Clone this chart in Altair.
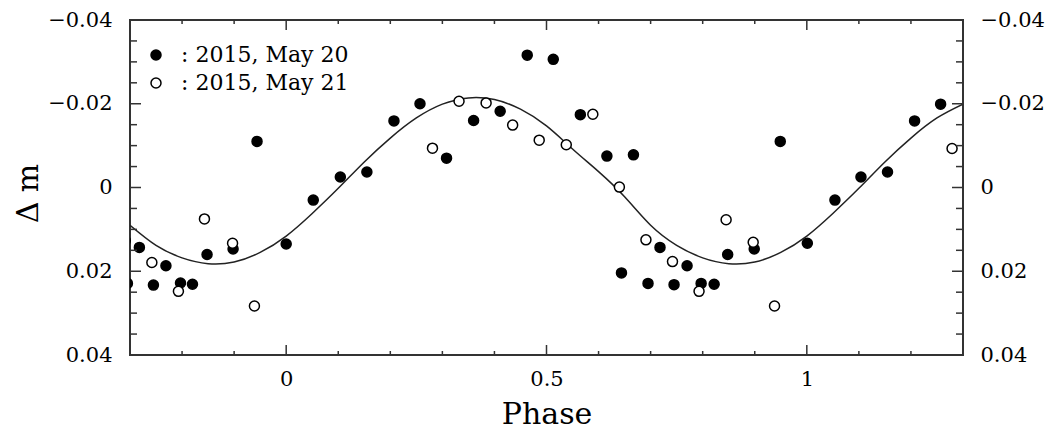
import altair as alt
import pandas as pd

# ---- data ----
may20_phase = [-0.305, -0.282, -0.255, -0.231, -0.203, -0.180, -0.152, -0.102, -0.056,
               0.000, 0.052, 0.104, 0.155, 0.207, 0.257, 0.308, 0.360, 0.411, 0.463,
               0.513, 0.565, 0.616, 0.644, 0.667, 0.695, 0.718, 0.745, 0.770, 0.797,
               0.822, 0.848, 0.899, 0.949, 1.001, 1.054, 1.104, 1.155, 1.207, 1.257]
may20_dm = [0.0229, 0.0143, 0.0233, 0.0187, 0.0228, 0.0231, 0.0160, 0.0147, -0.0110,
            0.0135, 0.0030, -0.0025, -0.0037, -0.0159, -0.0200, -0.0070, -0.0160, -0.0182, -0.0316,
            -0.0306, -0.0174, -0.0075, 0.0204, -0.0078, 0.0229, 0.0143, 0.0232, 0.0187, 0.0229,
            0.0231, 0.0160, 0.0147, -0.0110, 0.0133, 0.0030, -0.0025, -0.0037, -0.0159, -0.0199]

may21_phase = [-0.309, -0.258, -0.207, -0.157, -0.103, -0.061,
               0.281, 0.332, 0.384, 0.435, 0.486, 0.538, 0.589, 0.640,
               0.691, 0.742, 0.793, 0.845, 0.897, 0.938, 1.279]
may21_dm = [0.0127, 0.0179, 0.0248, 0.0075, 0.0133, 0.0283,
            -0.0094, -0.0206, -0.0202, -0.0149, -0.0113, -0.0102, -0.0175, -0.0001,
            0.0125, 0.0177, 0.0248, 0.0077, 0.0131, 0.0283, -0.0093]

curve_phase = [-0.30, -0.25, -0.20, -0.15, -0.10, -0.05, 0.00, 0.05, 0.10, 0.15, 0.20,
               0.25, 0.30, 0.35, 0.40, 0.45, 0.50, 0.55, 0.60, 0.65, 0.70, 0.75,
               0.80, 0.85, 0.90, 0.95, 1.00, 1.05, 1.10, 1.15, 1.20, 1.25, 1.30]
curve_dm = [0.0090, 0.0138, 0.0168, 0.0182, 0.0178, 0.0155, 0.0116, 0.0062, 0.0002, -0.0061, -0.0118,
            -0.0166, -0.0199, -0.0214, -0.0210, -0.0187, -0.0147, -0.0092, -0.0038, 0.0022, 0.0090, 0.0138,
            0.0168, 0.0182, 0.0178, 0.0155, 0.0116, 0.0062, 0.0002, -0.0061, -0.0118, -0.0166, -0.0199]

series_names = ["2015, May 20", "2015, May 21"]

x_major = [0, 0.5, 1]
x_minor = [-0.2, -0.1, 0.1, 0.2, 0.3, 0.4, 0.6, 0.7, 0.8, 0.9, 1.1, 1.2]
y_major = [-0.04, -0.02, 0, 0.02, 0.04]
y_minor = [-0.035, -0.03, -0.025, -0.015, -0.01, -0.005, 0.005, 0.01, 0.015, 0.025, 0.03, 0.035]

# ---- tables ----
pts = pd.DataFrame({
    "phase": may20_phase + may21_phase,
    "dm": may20_dm + may21_dm,
    "night": [series_names[0]] * len(may20_phase) + [series_names[1]] * len(may21_phase),
})
curve = pd.DataFrame({"phase": curve_phase, "dm": curve_dm})
xmaj = pd.DataFrame({"v": x_major})
xmin = pd.DataFrame({"v": x_minor})
ymaj = pd.DataFrame({"v": y_major[1:-1]})
ymin = pd.DataFrame({"v": y_minor})
yall = pd.DataFrame({"v": y_major})

W, H = 833, 335
FONT = "DejaVu Serif"

xscale = alt.Scale(domain=[-0.3, 1.3], nice=False, zero=False)
yscale = alt.Scale(domain=[-0.04, 0.04], reverse=True, nice=False, zero=False)

axis_common = dict(grid=False, domain=False, ticks=False, tickSize=0,
                   labelFont=FONT, labelFontSize=21, labelColor="black",
                   format="~g", labelFlush=False, labelOverlap=False)

line = alt.Chart(curve).mark_line(color="#222", strokeWidth=1.5, clip=True, interpolate="natural").encode(
    x=alt.X("phase:Q", scale=xscale,
            axis=alt.Axis(orient="bottom", values=x_major, labelPadding=13,
                          title="Phase", titleFont=FONT, titleFontSize=30, titleFontWeight="normal",
                          titleColor="black", titleBaseline="alphabetic", titleY=68, titleX=W / 2,
                          **axis_common)),
    y=alt.Y("dm:Q", scale=yscale,
            axis=alt.Axis(orient="left", values=y_major, labelPadding=18,
                          title="Δ m", titleFont=FONT, titleFontSize=30, titleFontWeight="normal",
                          titleColor="black", titleAngle=-90, titleBaseline="alphabetic",
                          titleAlign="center", titleX=-93, titleY=173,
                          **axis_common)),
)

points = alt.Chart(pts).mark_point(filled=True, shape="circle", size=100, stroke="black",
                                   strokeWidth=1.5, opacity=1, clip=True).encode(
    x=alt.X("phase:Q", scale=xscale, axis=None),
    y=alt.Y("dm:Q", scale=yscale, axis=None),
    fill=alt.Fill("night:N", scale=alt.Scale(domain=series_names, range=["black", "white"]),
                  legend=alt.Legend(orient="none", legendX=15, legendY=24, title=None,
                                    labelExpr="': ' + datum.label", labelFont=FONT,
                                    labelFontSize=22, labelColor="black", labelLimit=0,
                                    symbolType="circle",
                                    symbolSize=100, symbolStrokeColor="black",
                                    symbolStrokeWidth=1.5, labelOffset=14, rowPadding=6,
                                    padding=0)),
)

def xticks(df, length):
    bottom = alt.Chart(df).mark_rule(color="#333", strokeWidth=1.5).encode(
        x=alt.X("v:Q", scale=xscale, axis=None), y=alt.value(H), y2=alt.value(H - length))
    top = alt.Chart(df).mark_rule(color="#333", strokeWidth=1.5).encode(
        x=alt.X("v:Q", scale=xscale, axis=None), y=alt.value(0), y2=alt.value(length))
    return [bottom, top]

def yticks(df, length):
    left = alt.Chart(df).mark_rule(color="#333", strokeWidth=1.5).encode(
        y=alt.Y("v:Q", scale=yscale, axis=None), x=alt.value(0), x2=alt.value(length))
    right = alt.Chart(df).mark_rule(color="#333", strokeWidth=1.5).encode(
        y=alt.Y("v:Q", scale=yscale, axis=None), x=alt.value(W), x2=alt.value(W - length))
    return [left, right]

right_axis = alt.Chart(yall).mark_rule(opacity=0).encode(
    y=alt.Y("v:Q", scale=yscale,
            axis=alt.Axis(orient="right", values=y_major, labelPadding=17, title=None,
                          **axis_common)),
    x=alt.value(W), x2=alt.value(W),
)

layers = ([line, points, right_axis] + xticks(xmaj, 10) + xticks(xmin, 4)
          + yticks(ymaj, 11) + yticks(ymin, 7))

chart = alt.layer(*layers).resolve_axis(x="independent", y="independent").properties(
    width=W, height=H,
    autosize=alt.AutoSizeParams(type="none"),
    padding={"left": 130, "top": 20, "right": 93, "bottom": 75},
    background="white",
).configure_view(stroke="#333", strokeWidth=2)

chart.save("out.html", embed_options={"renderer": "svg", "actions": False})
